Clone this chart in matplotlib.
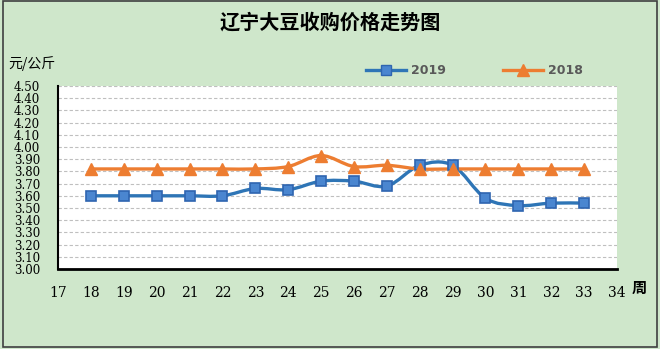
import numpy as np
import matplotlib
matplotlib.use('Agg')
import matplotlib.pyplot as plt
from matplotlib.path import Path
from matplotlib.patches import PathPatch, Rectangle

plt.rcParams['font.family'] = ['Noto Sans CJK SC', 'DejaVu Sans']

# weekly purchase prices, yuan per kg
weeks = [18, 19, 20, 21, 22, 23, 24, 25, 26, 27, 28, 29, 30, 31, 32, 33]
price_2019 = [3.60, 3.60, 3.60, 3.60, 3.60, 3.66, 3.65, 3.72, 3.72, 3.68,
              3.85, 3.85, 3.58, 3.52, 3.54, 3.54]
price_2018 = [3.82, 3.82, 3.82, 3.82, 3.82, 3.82, 3.84, 3.93, 3.84, 3.85,
              3.82, 3.82, 3.82, 3.82, 3.82, 3.82]

title = '辽宁大豆收购价格走势图'
unit = '元/公斤'
x_unit = '周'
bg = '#cfe7cb'
blue = '#2e75b6'
orange = '#ed7d31'


def smooth_path(xs, ys):
    # cubic bezier through every point, like a spreadsheet "smoothed line"
    pts = np.column_stack([xs, ys]).astype(float)
    n = len(pts)
    verts = [pts[0]]
    codes = [Path.MOVETO]
    for i in range(n - 1):
        p0 = pts[max(i - 1, 0)]
        p1 = pts[i]
        p2 = pts[i + 1]
        p3 = pts[min(i + 2, n - 1)]
        c1 = p1 + (p2 - p0) / 6.0
        c2 = p2 - (p3 - p1) / 6.0
        verts += [c1, c2, p2]
        codes += [Path.CURVE4] * 3
    return Path(verts, codes)


fig = plt.figure(figsize=(6.6, 3.49), dpi=100, facecolor=bg)
fig.patches.append(Rectangle((0.004, 0.006), 0.992, 0.99, transform=fig.transFigure,
                             fill=False, edgecolor='#404040', linewidth=1.2))

ax = fig.add_axes([0.0879, 0.2292, 0.8470, 0.5244])
ax.set_facecolor('white')

for ys, color in [(price_2019, blue), (price_2018, orange)]:
    ax.add_patch(PathPatch(smooth_path(weeks, ys), facecolor='none',
                           edgecolor=color, linewidth=2.4, zorder=3))

ax.plot(weeks, price_2019, linestyle='none', marker='s', markersize=7,
        markerfacecolor='#4a86d0', markeredgecolor='#2f65b0', markeredgewidth=1.2,
        zorder=4)
ax.plot(weeks, price_2018, linestyle='none', marker='^', markersize=9,
        markerfacecolor=orange, markeredgecolor=orange, zorder=4)

# legend handles
ax.plot([], [], color=blue, linewidth=2.4, marker='s', markersize=7,
        markerfacecolor='#4a86d0', markeredgecolor='#2f65b0', label='2019')
ax.plot([], [], color=orange, linewidth=2.4, marker='^', markersize=9,
        markerfacecolor=orange, markeredgecolor=orange, label='2018')
leg = ax.legend(loc='lower left', bbox_to_anchor=(0.53, 0.985), ncol=2, frameon=False,
                handlelength=3.2, columnspacing=4.6, handletextpad=0.4,
                prop={'family': 'DejaVu Sans', 'weight': 'bold', 'size': 9})
for t in leg.get_texts():
    t.set_color('#595959')

ax.set_xlim(17, 34)
ax.set_ylim(3.0, 4.5)
ax.set_xticks(range(17, 35))
yt = np.round(np.arange(3.0, 4.501, 0.1), 2)
ax.set_yticks(yt)
ax.set_yticklabels(['%.2f' % v for v in yt])
ax.tick_params(axis='both', length=0, colors='black')
ax.tick_params(axis='y', pad=13, labelsize=8.5)
ax.tick_params(axis='x', pad=12, labelsize=10)
for lab in ax.get_xticklabels() + ax.get_yticklabels():
    lab.set_family('DejaVu Serif')
ax.yaxis.grid(True, linestyle=(0, (3, 2)), color='#bfbfbf', linewidth=0.8)
ax.set_axisbelow(True)

ax.spines['top'].set_visible(False)
ax.spines['right'].set_visible(False)
ax.spines['left'].set_linewidth(1.5)
ax.spines['bottom'].set_linewidth(2.0)

fig.text(0.5, 0.937, title, ha='center', va='center', fontsize=14.5, fontweight='bold')
fig.text(0.012, 0.817, unit, ha='left', va='center', fontsize=10)
fig.text(0.957, 0.175, x_unit, ha='left', va='center', fontsize=11, fontweight='bold')

fig.savefig('out.png', dpi=100, facecolor=bg)
